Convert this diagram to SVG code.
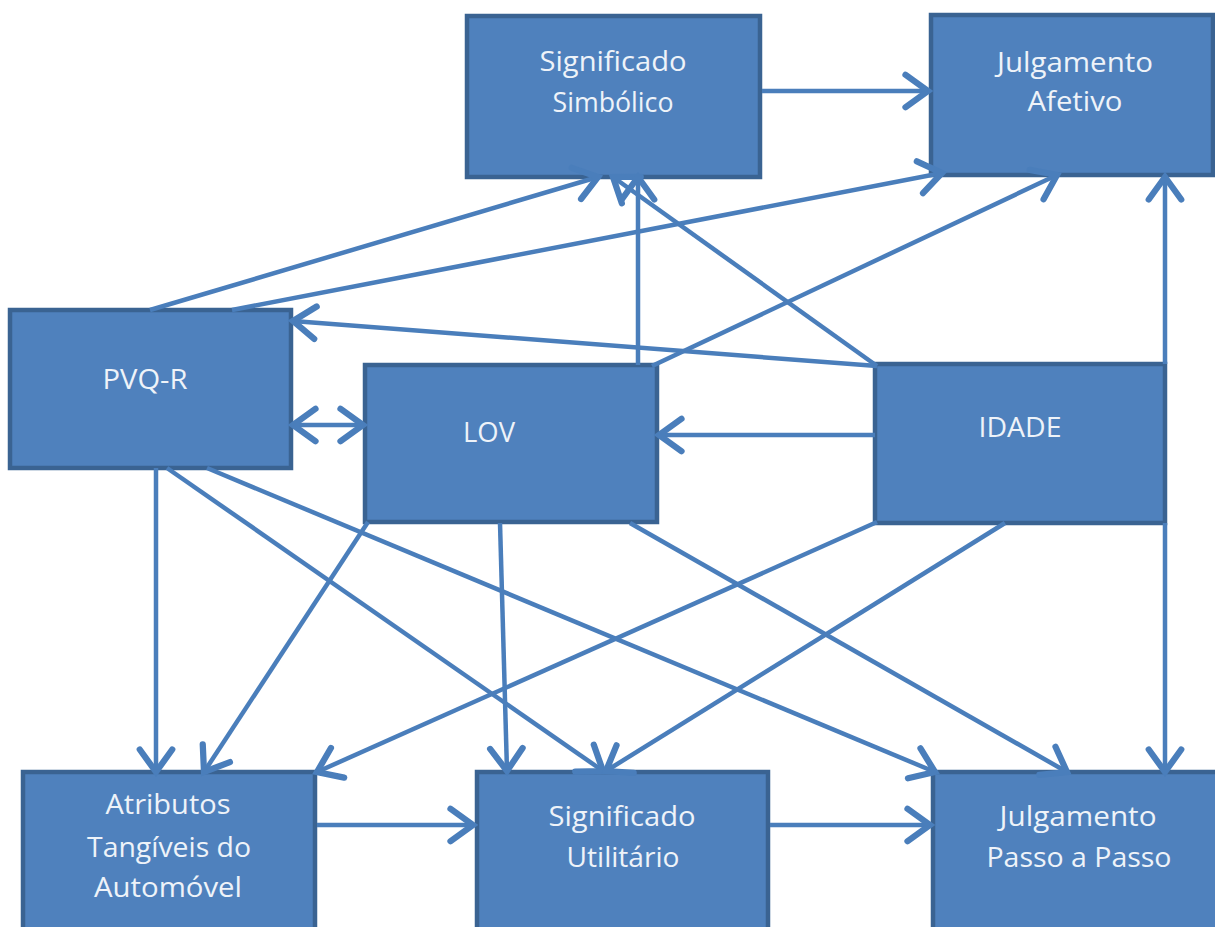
<svg xmlns="http://www.w3.org/2000/svg" width="1215" height="927" viewBox="0 0 1215 927">
  <style>
    .box { fill: #4f81bd; stroke: #3a6392; stroke-width: 4.5; }
    .lbl { font-family: "Open Sans", "Liberation Sans", sans-serif; font-size: 27px; fill: #eef3f9; text-anchor: middle; }
    .conn line { stroke: #4a7ebb; stroke-width: 4.5; fill: none; marker-end: url(#head); }
    .conn line.both { marker-start: url(#headStart); }
  </style>
  <defs>
    <marker id="head" markerUnits="userSpaceOnUse" markerWidth="40" markerHeight="40" viewBox="-22 -16 26 32" refX="0" refY="0" orient="auto" overflow="visible">
      <path d="M-18,-13 L0,0 L-18,13" fill="none" stroke="#4a7ebb" stroke-width="5" stroke-linecap="round" stroke-linejoin="miter"/>
    </marker>
    <marker id="headStart" markerUnits="userSpaceOnUse" markerWidth="40" markerHeight="40" viewBox="-22 -16 26 32" refX="0" refY="0" orient="auto-start-reverse" overflow="visible">
      <path d="M-18,-13 L0,0 L-18,13" fill="none" stroke="#4a7ebb" stroke-width="5" stroke-linecap="round" stroke-linejoin="miter"/>
    </marker>
  </defs>

  <rect width="1215" height="927" fill="#ffffff"/>

  <g id="significado-simbolico">
    <rect class="box" x="467" y="16" width="293" height="161"/>
    <text class="lbl" x="613" y="71" textLength="147" lengthAdjust="spacingAndGlyphs">Significado</text>
    <text class="lbl" x="613" y="112" textLength="121" lengthAdjust="spacingAndGlyphs">Simbólico</text>
  </g>

  <g id="julgamento-afetivo">
    <rect class="box" x="931" y="15" width="282" height="160"/>
    <text class="lbl" x="1075" y="72" textLength="156" lengthAdjust="spacingAndGlyphs">Julgamento</text>
    <text class="lbl" x="1075" y="111" textLength="95" lengthAdjust="spacingAndGlyphs">Afetivo</text>
  </g>

  <g id="pvq-r">
    <rect class="box" x="10" y="310" width="281" height="158"/>
    <text class="lbl" x="145" y="389" textLength="85" lengthAdjust="spacingAndGlyphs">PVQ-R</text>
  </g>

  <g id="lov">
    <rect class="box" x="365" y="365" width="292" height="157"/>
    <text class="lbl" x="489" y="442" textLength="52" lengthAdjust="spacingAndGlyphs">LOV</text>
  </g>

  <g id="idade">
    <rect class="box" x="875" y="364" width="290" height="159"/>
    <text class="lbl" x="1020" y="437" textLength="83" lengthAdjust="spacingAndGlyphs">IDADE</text>
  </g>

  <g id="atributos-tangiveis">
    <rect class="box" x="23" y="772" width="292" height="200"/>
    <text class="lbl" x="168" y="814" textLength="125" lengthAdjust="spacingAndGlyphs">Atributos</text>
    <text class="lbl" x="169" y="857" textLength="164" lengthAdjust="spacingAndGlyphs">Tangíveis do</text>
    <text class="lbl" x="168" y="897" textLength="148" lengthAdjust="spacingAndGlyphs">Automóvel</text>
  </g>

  <g id="significado-utilitario">
    <rect class="box" x="477" y="772" width="291" height="200"/>
    <text class="lbl" x="622" y="826" textLength="147" lengthAdjust="spacingAndGlyphs">Significado</text>
    <text class="lbl" x="623" y="867" textLength="113" lengthAdjust="spacingAndGlyphs">Utilitário</text>
  </g>

  <g id="julgamento-passo-a-passo">
    <rect class="box" x="933" y="772" width="300" height="200"/>
    <text class="lbl" x="1078" y="826" textLength="157" lengthAdjust="spacingAndGlyphs">Julgamento</text>
    <text class="lbl" x="1079" y="867" textLength="185" lengthAdjust="spacingAndGlyphs">Passo a Passo</text>
  </g>

  <g id="connectors" class="conn">
    <line x1="762" y1="91" x2="928" y2="91"/>
    <line x1="150" y1="310" x2="598" y2="177"/>
    <line x1="232" y1="310" x2="942" y2="173"/>
    <line x1="877" y1="366" x2="293" y2="321"/>
    <line x1="877" y1="366" x2="613" y2="177"/>
    <line x1="638" y1="365" x2="638" y2="177"/>
    <line x1="652" y1="366" x2="1057" y2="175"/>
    <line x1="1165" y1="364" x2="1165" y2="177"/>
    <line class="both" x1="293" y1="425" x2="363" y2="425"/>
    <line x1="875" y1="435" x2="659" y2="435"/>
    <line x1="156" y1="468" x2="156" y2="772"/>
    <line x1="167" y1="468" x2="603" y2="771"/>
    <line x1="207" y1="468" x2="935" y2="772"/>
    <line x1="368" y1="522" x2="204" y2="772"/>
    <line x1="500" y1="523" x2="507" y2="771"/>
    <line x1="630" y1="523" x2="1067" y2="772"/>
    <line x1="877" y1="522" x2="317" y2="772"/>
    <line x1="1005" y1="523" x2="606" y2="771"/>
    <line x1="1165" y1="523" x2="1165" y2="772"/>
    <line x1="317" y1="825" x2="473" y2="825"/>
    <line x1="770" y1="825" x2="930" y2="825"/>
  </g>
</svg>
